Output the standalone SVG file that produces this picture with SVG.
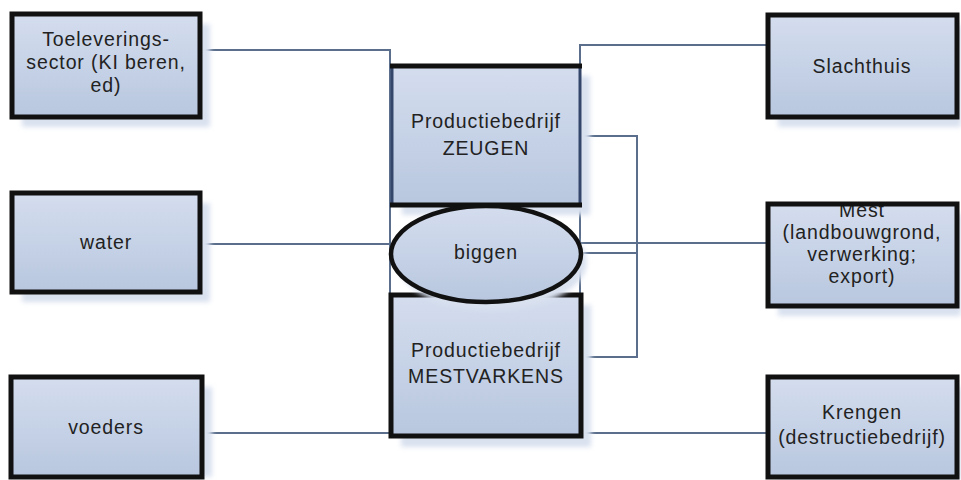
<svg xmlns="http://www.w3.org/2000/svg" width="961" height="480" viewBox="0 0 961 480">
  <defs>
    <linearGradient id="fill" x1="0" y1="0" x2="0" y2="1">
      <stop offset="0" stop-color="#d4ddee"/>
      <stop offset="1" stop-color="#b8c7df"/>
    </linearGradient>
    <filter id="soft" x="-10%" y="-10%" width="120%" height="120%">
      <feGaussianBlur stdDeviation="2.5"/>
    </filter>
  </defs>
  <style>
    .shadow { fill: #d9e1ef; filter: url(#soft); }
    .box { fill: url(#fill); }
    .edge { fill: none; stroke: #111; stroke-width: 5; }
    .side { stroke: #34476a; stroke-width: 3; }
    .cap { stroke: #111; stroke-width: 5; }
    .link { fill: none; stroke: #5b6f8c; stroke-width: 2; }
    text { font-family: "Liberation Sans", Arial, sans-serif; font-size: 19.5px; letter-spacing: 0.9px; fill: #222; text-anchor: middle; }
  </style>
  <rect width="961" height="480" fill="#fff"/>

  <g id="connectors">
    <path class="link" d="M200,50 H390 V295"/>
    <path class="link" d="M200,244 H391"/>
    <path class="link" d="M202,433 H768"/>
    <path class="link" d="M768,45 H580 V295"/>
    <path class="link" d="M580,136 H637 V357 H581"/>
    <path class="link" d="M581,243 H768"/>
    <path class="link" d="M582,253 H637"/>
  </g>

  <g id="toelevering">
    <rect class="shadow" x="22" y="24" width="188" height="103"/>
    <rect class="box" x="12" y="14" width="188" height="103"/>
    <rect class="edge" x="12" y="14" width="188" height="103"/>
    <text x="106" y="46">Toeleverings-</text>
    <text x="106" y="69">sector (KI beren,</text>
    <text x="106" y="92">ed)</text>
  </g>

  <g id="water">
    <rect class="shadow" x="22" y="203" width="188" height="99"/>
    <rect class="box" x="12" y="193" width="188" height="99"/>
    <rect class="edge" x="12" y="193" width="188" height="99"/>
    <text x="106" y="249">water</text>
  </g>

  <g id="voeders">
    <rect class="shadow" x="21" y="387" width="191" height="90"/>
    <rect class="box" x="11" y="377" width="191" height="100"/>
    <rect class="edge" x="11" y="377" width="191" height="100"/>
    <text x="106" y="434">voeders</text>
  </g>

  <g id="slachthuis">
    <rect class="shadow" x="778" y="25" width="183" height="102"/>
    <rect class="box" x="768" y="15" width="189" height="102"/>
    <rect class="edge" x="768" y="15" width="189" height="102"/>
    <text x="862" y="73">Slachthuis</text>
  </g>

  <g id="mest">
    <rect class="shadow" x="778" y="214" width="183" height="102"/>
    <rect class="box" x="768" y="204" width="189" height="102"/>
    <text x="862" y="217">Mest</text>
    <text x="862" y="239">(landbouwgrond,</text>
    <text x="862" y="261">verwerking;</text>
    <text x="862" y="283">export)</text>
    <rect class="edge" x="768" y="204" width="189" height="102"/>
  </g>

  <g id="krengen">
    <rect class="shadow" x="778" y="387" width="183" height="93"/>
    <rect class="box" x="768" y="377" width="189" height="100"/>
    <rect class="edge" x="768" y="377" width="189" height="100"/>
    <text x="862" y="419">Krengen</text>
    <text x="862" y="444">(destructiebedrijf)</text>
  </g>

  <g id="zeugen">
    <rect class="shadow" x="402" y="76" width="188" height="139"/>
    <rect class="box" x="391" y="66" width="190" height="139"/>
    <line class="side" x1="392" y1="66" x2="392" y2="205"/>
    <line class="side" x1="580" y1="66" x2="580" y2="205"/>
    <line class="cap" x1="390" y1="66" x2="582" y2="66"/>
    <line class="cap" x1="390" y1="205" x2="582" y2="205"/>
    <text x="486" y="128">Productiebedrijf</text>
    <text x="486" y="155">ZEUGEN</text>
  </g>

  <g id="mestvarkens">
    <rect class="shadow" x="401" y="305" width="190" height="142"/>
    <rect class="box" x="391" y="295" width="190" height="141"/>
    <rect class="edge" x="391" y="295" width="190" height="141"/>
    <text x="486" y="357">Productiebedrijf</text>
    <text x="486" y="383">MESTVARKENS</text>
  </g>

  <g id="biggen">
    <ellipse class="shadow" cx="492" cy="262" rx="95" ry="48"/>
    <ellipse cx="486" cy="254" rx="95" ry="48" fill="url(#fill)" stroke="#111" stroke-width="4.5"/>
    <text x="486" y="259">biggen</text>
  </g>
</svg>
